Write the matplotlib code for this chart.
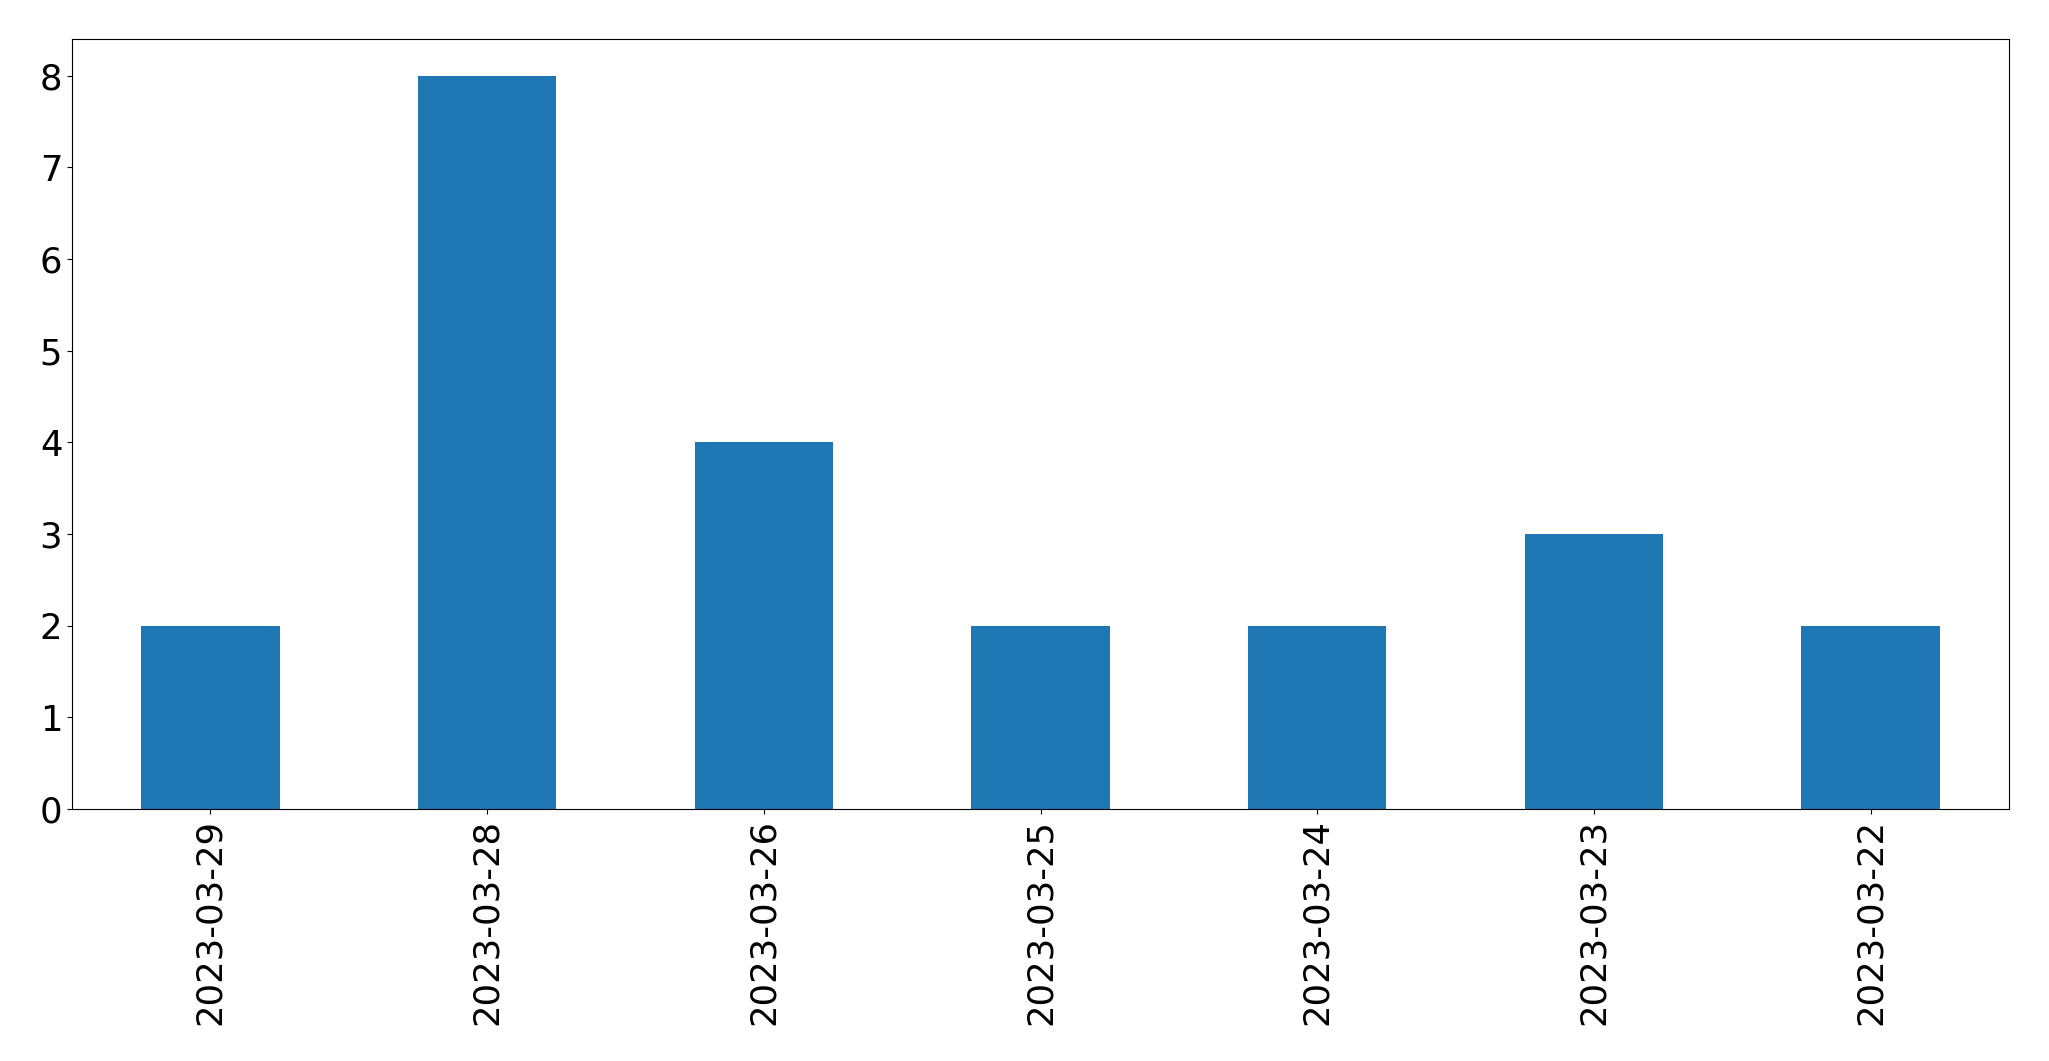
import matplotlib
matplotlib.use("Agg")
import matplotlib.pyplot as plt

dates = ["2023-03-29", "2023-03-28", "2023-03-26", "2023-03-25",
         "2023-03-24", "2023-03-23", "2023-03-22"]
counts = [2, 8, 4, 2, 2, 3, 2]

fig = plt.figure(figsize=(20.49, 10.61), dpi=100)
ax = fig.add_axes([72/2049, 1-809/1061, (2009-72)/2049, (809-39)/1061])
x = list(range(len(dates)))
ax.bar(x, counts, width=0.5, color="#1f77b4")
ax.set_xlim(-0.5, len(dates) - 0.5)
ax.set_xticks(x)
ax.set_xticklabels(dates, rotation=90)
ax.tick_params(axis="both", labelsize=25.5)
fig.savefig("out.png", dpi=100)
